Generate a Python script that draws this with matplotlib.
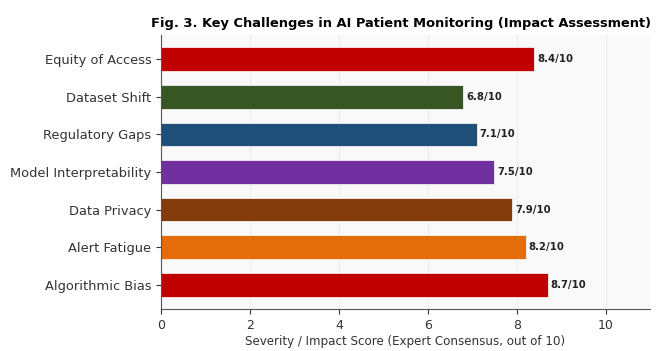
import matplotlib
matplotlib.use("Agg")
import matplotlib.pyplot as plt

categories = ["Algorithmic Bias", "Alert Fatigue", "Data Privacy", "Model Interpretability",
              "Regulatory Gaps", "Dataset Shift", "Equity of Access"]
scores = [8.7, 8.2, 7.9, 7.5, 7.1, 6.8, 8.4]
colors = ["#c00000", "#e46c0a", "#843c0c", "#7030a0", "#1f4e79", "#375623", "#c00000"]
xticks = [0, 2, 4, 6, 8, 10]

fig = plt.figure(figsize=(6.61, 3.51), dpi=100)
ax = fig.add_axes([161/661, 1-309/351, (650-161)/661, (309-35)/351])
ax.set_facecolor("#f9f9f9")
bars = ax.barh(categories, scores, height=0.63, color=colors, edgecolor="white", linewidth=0.5)
for b, v in zip(bars, scores):
    ax.text(b.get_width() + 0.07, b.get_y() + b.get_height()/2, f"{v}/10",
            va="center", ha="left", fontsize=7.3, fontweight="bold", color="#222222")
ax.set_xlim(0, 11)
ax.set_xticks(xticks)
ax.grid(axis="x", color="#ececec", linewidth=0.8)
ax.set_axisbelow(True)
for s in ["top", "right"]:
    ax.spines[s].set_visible(False)
ax.spines["left"].set_color("#555555")
ax.spines["bottom"].set_color("#555555")
ax.tick_params(axis="y", labelsize=9.4, colors="#333333")
ax.tick_params(axis="x", labelsize=9, colors="#333333")
ax.set_xlabel("Severity / Impact Score (Expert Consensus, out of 10)", fontsize=8.6, color="#333333", labelpad=2)
ax.set_title("Fig. 3. Key Challenges in AI Patient Monitoring (Impact Assessment)",
             fontsize=9.4, fontweight="bold", pad=6, x=0.49)
fig.savefig("out.png", dpi=100)
